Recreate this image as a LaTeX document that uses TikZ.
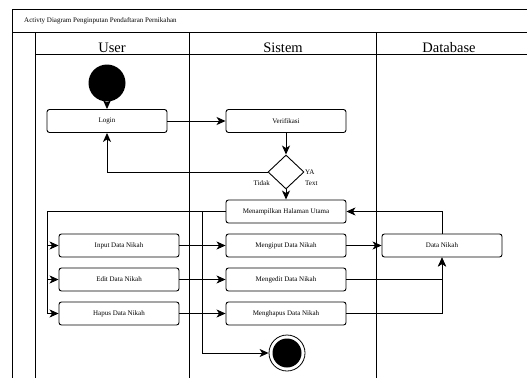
\documentclass[tikz,border=0pt]{standalone}
\usepackage{fontspec}
\setmainfont{Liberation Serif}
\usetikzlibrary{arrows.meta,shapes.geometric}
\tikzset{
	lane/.style={
		draw,
		line width=1pt
	},
	actbox/.style={
		rectangle,
		draw,
		line width=0.9pt,
		rounded corners=2.5pt,
		minimum width=120pt,
		minimum height=23pt,
		inner sep=1pt,
		font=\fontsize{7}{8}\selectfont
	},
	decision/.style={
		diamond,
		draw,
		line width=0.9pt,
		minimum width=36pt,
		minimum height=34pt,
		inner sep=0pt
	},
	startnode/.style={
		circle,
		fill=black,
		minimum size=37pt,
		inner sep=0pt
	},
	endnode/.style={
		circle,
		draw,
		line width=0.8pt,
		minimum size=36pt,
		inner sep=0pt,
		path picture={\fill (path picture bounding box.center) circle (14.5pt);}
	},
	guard/.style={
		inner sep=0pt,
		font=\fontsize{7}{8}\selectfont
	},
	header/.style={
		anchor=base,
		inner sep=0pt,
		font=\fontsize{14.5}{16}\selectfont
	},
	flow/.style={
		line width=0.9pt,
		-{Stealth[length=9pt,width=8pt,inset=2.5pt]}
	},
	line/.style={
		line width=0.9pt
	}
}

\begin{document}
\begin{tikzpicture}[x=1pt,y=-1pt]
\useasboundingbox (0,0) rectangle (527,378);

% swimlanes
\draw[lane] (12,9) -- (527,9);
\draw[lane] (12,9) -- (12,378);
\draw[lane] (12,32) -- (527,32);
\draw[lane] (35,32) -- (35,378);
\draw[lane] (189,32) -- (189,378);
\draw[lane] (376,32) -- (376,378);
\draw[lane] (35,54) -- (527,54);

\node[guard, anchor=west] (judul) at (24,20.5) {Activty Diagram Penginputan Pendaftaran Pernikahan};
\node[header] (user) at (112,52) {User};
\node[header] (sistem) at (283,52) {Sistem};
\node[header] (database) at (449,52) {Database};

% activities
\node[startnode] (mulai) at (107,83) {};
\node[actbox] (login) at (107,121) {Login};
\node[actbox] (verifikasi) at (286,121) {Verifikasi};
\node[decision] (cek) at (286,172) {};
\node[guard, anchor=west] (ya) at (305,172) {YA};
\node[guard, anchor=west] (text) at (305,183) {Text};
\node[guard, anchor=east] (tidak) at (270,183) {Tidak};
\node[actbox] (halaman) at (286,211.5) {Menampilkan Halaman Utama};
\node[actbox] (mengiput) at (286,245.5) {Mengiput Data Nikah};
\node[actbox] (mengedit) at (286,279.5) {Mengedit Data Nikah};
\node[actbox] (menghapus) at (286,313.5) {Menghapus Data Nikah};
\node[endnode] (selesai) at (287,353) {};
\node[actbox] (datanikah) at (442,245.5) {Data Nikah};
\node[actbox] (input) at (119,245.5) {Input Data Nikah};
\node[actbox] (edit) at (119,279.5) {Edit Data Nikah};
\node[actbox] (hapus) at (119,313.5) {Hapus Data Nikah};

\coordinate (cabang) at (47,211.5);
\coordinate (akhir) at (202,211.5);

% flows
\draw[flow] (mulai) -- (login);
\draw[flow] (login) -- (verifikasi);
\draw[flow] (verifikasi) -- (cek);
\draw[flow] (cek) -- (halaman);
\draw[flow] (cek.west) -| (login.south);
\draw[line] (halaman.west) -- (cabang);
\draw[flow] (cabang) |- (input.west);
\draw[flow] (cabang) |- (edit.west);
\draw[flow] (cabang) |- (hapus.west);
\draw[flow] (akhir) |- (selesai.west);
\draw[flow] (input) -- (mengiput);
\draw[flow] (edit) -- (mengedit);
\draw[flow] (hapus) -- (menghapus);
\draw[flow] (mengiput) -- (datanikah);
\draw[flow] (mengedit.east) -| (datanikah.south);
\draw[flow] (menghapus.east) -| (datanikah.south);
\draw[flow] (datanikah.north) |- (halaman.east);

\end{tikzpicture}
\end{document}
